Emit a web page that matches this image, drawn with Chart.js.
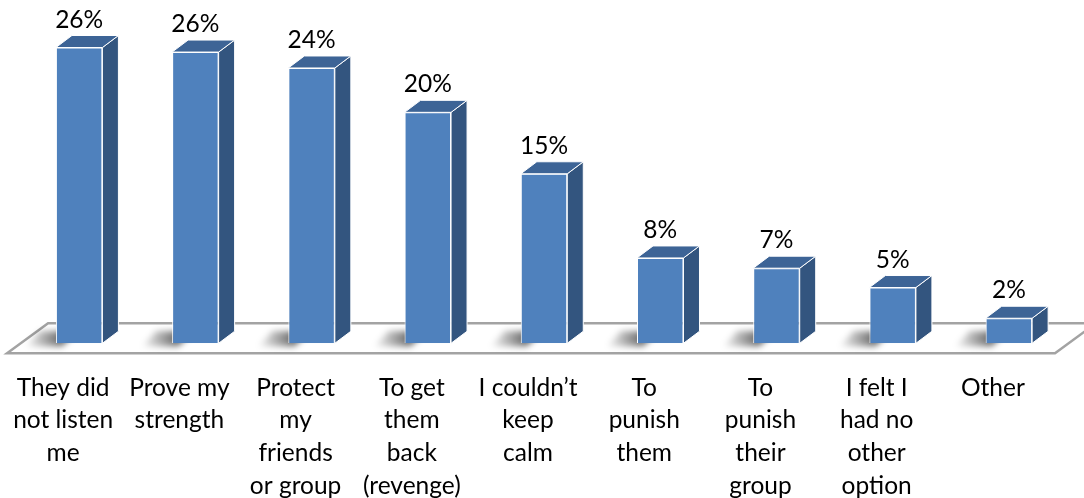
<!DOCTYPE html>
<html>
<head>
<meta charset="utf-8">
<script src="https://cdn.jsdelivr.net/npm/chart.js@4"></script>
<style>
  html, body { margin: 0; padding: 0; background: #fff; }
  #wrap { width: 1084px; height: 498px; }
</style>
</head>
<body>
<div id="wrap"><canvas id="myChart"></canvas></div>
<script>
const labels = [
  ["They did", "not listen", "me"],
  ["Prove my", "strength"],
  ["Protect", "my", "friends", "or group"],
  ["To get", "them", "back", "(revenge)"],
  ["I couldn’t", "keep", "calm"],
  ["To", "punish", "them"],
  ["To", "punish", "their", "group"],
  ["I felt I", "had no", "other", "option"],
  ["Other"],
];
const values = [26.0, 25.6, 24.2, 20.3, 14.9, 7.5, 6.6, 4.9, 2.2];
const valueLabels = ["26%", "26%", "24%", "20%", "15%", "8%", "7%", "5%", "2%"];

const depthX = 16;
const depthY = 12;

// fake 3d: floor + shadows under the bars, top and side faces over them
const bar3d = {
  id: "bar3d",
  beforeDatasetsDraw(chart) {
    const { ctx, chartArea } = chart;
    const base = chart.scales.y.getPixelForValue(0);
    ctx.save();
    ctx.beginPath();
    ctx.moveTo(chartArea.left - 14, base + 10);
    ctx.lineTo(chartArea.left + 27, base - 20);
    ctx.lineTo(chartArea.right + 29, base - 20);
    ctx.lineTo(chartArea.right - 12, base + 10);
    ctx.closePath();
    ctx.fillStyle = "#fff";
    ctx.fill();
    ctx.lineWidth = 2.5;
    ctx.strokeStyle = "#a3a3a3";
    ctx.stroke();

    chart.getDatasetMeta(0).data.forEach((bar) => {
      const l = bar.x - bar.width / 2;
      const g = ctx.createLinearGradient(l - 32, 0, l + 6, 0);
      g.addColorStop(0, "rgba(0,0,0,0)");
      g.addColorStop(1, "rgba(0,0,0,0.6)");
      ctx.save();
      ctx.filter = "blur(3px)";
      ctx.beginPath();
      ctx.moveTo(l - 30, base + 3);
      ctx.lineTo(l + 6, base + 3);
      ctx.lineTo(l + 6 + depthX, base - depthY);
      ctx.lineTo(l - 16, base - depthY);
      ctx.closePath();
      ctx.fillStyle = g;
      ctx.fill();
      ctx.restore();
    });
    ctx.restore();
  },
  afterDatasetsDraw(chart) {
    const { ctx } = chart;
    ctx.save();
    ctx.lineWidth = 1;
    ctx.strokeStyle = "#fff";
    ctx.lineJoin = "round";
    chart.getDatasetMeta(0).data.forEach((bar, i) => {
      const l = bar.x - bar.width / 2;
      const r = bar.x + bar.width / 2;
      const t = bar.y;
      const b = bar.base;
      // side
      ctx.beginPath();
      ctx.moveTo(r, t);
      ctx.lineTo(r + depthX, t - depthY);
      ctx.lineTo(r + depthX, b - depthY);
      ctx.lineTo(r, b);
      ctx.closePath();
      ctx.fillStyle = "#33557f";
      ctx.fill();
      ctx.stroke();
      // top
      ctx.beginPath();
      ctx.moveTo(l, t);
      ctx.lineTo(l + depthX, t - depthY);
      ctx.lineTo(r + depthX, t - depthY);
      ctx.lineTo(r, t);
      ctx.closePath();
      ctx.fillStyle = "#3d6496";
      ctx.fill();
      ctx.stroke();
      // value label
      ctx.fillStyle = "#000";
      ctx.font = "24.5px Lato";
      ctx.textAlign = "center";
      ctx.textBaseline = "alphabetic";
      ctx.fillText(valueLabels[i], bar.x, t - 20);
    });
    ctx.restore();
  },
};

const config = {
  type: "bar",
  data: {
    labels: labels,
    datasets: [
      {
        data: values,
        backgroundColor: "#4f81bd",
        borderColor: "#ffffff",
        borderWidth: 1,
        barPercentage: 0.4,
        categoryPercentage: 1,
      },
    ],
  },
  options: {
    responsive: true,
    maintainAspectRatio: false,
    animation: false,
    layout: {
      padding: { left: 21, right: 17, top: 2, bottom: -32 },
    },
    scales: {
      x: {
        grid: { display: false, drawTicks: false },
        border: { display: false },
        ticks: {
          color: "#000",
          font: { family: "Lato", size: 24.5, lineHeight: 1.334 },
          padding: 28,
          labelOffset: -16,
          maxRotation: 0,
          autoSkip: false,
        },
      },
      y: {
        display: false,
        min: 0,
        max: 30,
      },
    },
    plugins: {
      legend: { display: false },
      tooltip: { enabled: false },
    },
  },
  plugins: [bar3d],
};

const myChart = new Chart(document.getElementById("myChart"), config);
</script>
</body>
</html>
